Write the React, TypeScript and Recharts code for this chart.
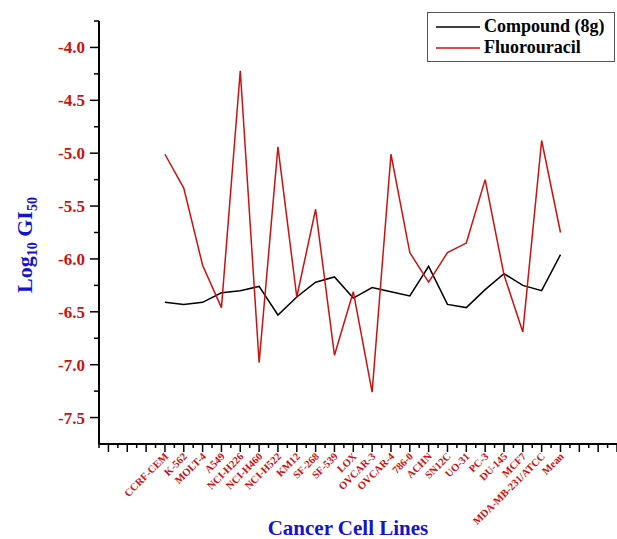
import { LineChart, Line, XAxis, YAxis, Legend } from 'recharts';

const cellLines = [
  'CCRF-CEM', 'K-562', 'MOLT-4', 'A549', 'NCI-H226', 'NCI-H460', 'NCI-H522', 'KM12',
  'SF-268', 'SF-539', 'LOX', 'OVCAR-3', 'OVCAR-4', '786-0', 'ACHN', 'SN12C', 'UO-31',
  'PC-3', 'DU-145', 'MCF7', 'MDA-MB-231/ATCC', 'Mean',
];

const compound8g = [
  -6.41, -6.43, -6.41, -6.32, -6.30, -6.26, -6.53, -6.36, -6.22, -6.17, -6.37,
  -6.27, -6.31, -6.35, -6.07, -6.43, -6.46, -6.29, -6.14, -6.25, -6.30, -5.96,
];

const fluorouracil = [
  -5.01, -5.33, -6.06, -6.46, -4.22, -6.98, -4.94, -6.36, -5.53, -6.91, -6.31,
  -7.26, -5.01, -5.94, -6.22, -5.94, -5.85, -5.25, -6.15, -6.69, -4.88, -5.75,
];

// category positions sit on integers, minor ticks on the halves
const xTicks = Array.from({ length: 56 }, (_, i) => -3.5 + i * 0.5);
const yTicks = Array.from({ length: 16 }, (_, i) => -7.5 + i * 0.25);

const RED = '#cc1111';
const BLUE = '#1414c8';
const SERIF = "'Liberation Serif', 'Times New Roman', serif";

const rows = cellLines.map((name, i) => ({
  idx: i,
  name,
  compound: compound8g[i],
  fu: fluorouracil[i],
}));

const XTick = ({ x, y, payload }: any) => {
  const v = payload.value;
  const major = Number.isInteger(v);
  const label = major && v >= 0 && v < cellLines.length ? cellLines[v] : null;
  return (
    <g>
      <line x1={x} y1={y} x2={x} y2={y + (major ? 8 : 4)} stroke="#000" strokeWidth={1.5} />
      {label && (
        <text
          x={x + 4}
          y={y + 13}
          transform={`rotate(-45, ${x + 4}, ${y + 13})`}
          textAnchor="end"
          fill={RED}
          fontSize={10.5}
          fontWeight="bold"
          fontFamily={SERIF}
        >
          {label}
        </text>
      )}
    </g>
  );
};

const YTick = ({ x, y, payload }: any) => {
  const v = payload.value;
  const major = Math.abs(v * 2 - Math.round(v * 2)) < 1e-6;
  return (
    <g>
      <line x1={x - (major ? 9 : 5)} y1={y} x2={x} y2={y} stroke="#000" strokeWidth={1.5} />
      {major && (
        <text
          x={x - 14}
          y={y}
          dy={6}
          textAnchor="end"
          fill={RED}
          fontSize={17}
          fontWeight="bold"
          fontFamily={SERIF}
        >
          {v.toFixed(1)}
        </text>
      )}
    </g>
  );
};

const YTitle = () => (
  <text
    x={32}
    y={245}
    transform="rotate(-90, 32, 245)"
    textAnchor="middle"
    fill={BLUE}
    fontSize={22}
    fontWeight="bold"
    fontFamily={SERIF}
  >
    Log
    <tspan fontSize={14} dy={5}>10</tspan>
    <tspan dy={-5}> GI</tspan>
    <tspan fontSize={14} dy={5}>50</tspan>
  </text>
);

const XTitle = () => (
  <text
    x={348}
    y={535}
    textAnchor="middle"
    fill={BLUE}
    fontSize={21}
    fontWeight="bold"
    fontFamily={SERIF}
  >
    Cancer Cell Lines
  </text>
);

const legendItems = [
  { label: 'Compound (8g)', color: '#000' },
  { label: 'Fluorouracil', color: RED },
];

const ChartLegend = () => (
  <div
    style={{
      border: '1px solid #555',
      background: '#fff',
      padding: '3px 0 3px 8px',
      boxSizing: 'border-box',
      width: 188,
      height: 50,
    }}
  >
    {legendItems.map((item) => (
      <div key={item.label} style={{ display: 'flex', alignItems: 'center', height: 21 }}>
        <svg width={46} height={4}>
          <line x1={0} y1={2} x2={44} y2={2} stroke={item.color} strokeWidth={1.5} />
        </svg>
        <span
          style={{
            marginLeft: 2,
            fontFamily: SERIF,
            fontWeight: 'bold',
            fontSize: 18,
            color: '#000',
          }}
        >
          {item.label}
        </span>
      </div>
    ))}
  </div>
);

export default function App() {
  return (
    <div style={{ position: 'absolute', left: 0, top: 0, background: '#fff' }}>
      <LineChart width={617} height={539} data={rows} margin={{ top: 21, right: 0, bottom: 0, left: 0 }}>
        <XAxis
          dataKey="idx"
          type="number"
          domain={[-3.5, 24]}
          ticks={xTicks}
          interval={0}
          height={95}
          tickLine={false}
          tickSize={0}
          tickMargin={0}
          tick={<XTick />}
          axisLine={{ stroke: '#000', strokeWidth: 2 }}
          label={{ content: <XTitle /> }}
        />
        <YAxis
          type="number"
          domain={[-7.75, -3.75]}
          ticks={yTicks}
          interval={0}
          width={99}
          tickLine={false}
          tickSize={0}
          tickMargin={0}
          tick={<YTick />}
          axisLine={{ stroke: '#000', strokeWidth: 2 }}
          label={{ content: <YTitle /> }}
        />
        <Legend
          layout="vertical"
          align="center"
          verticalAlign="middle"
          content={<ChartLegend />}
          wrapperStyle={{ left: 427, top: 12, width: 188, height: 50 }}
        />
        <Line
          type="linear"
          dataKey="compound"
          name="Compound (8g)"
          stroke="#000"
          strokeWidth={1.5}
          dot={false}
          isAnimationActive={false}
        />
        <Line
          type="linear"
          dataKey="fu"
          name="Fluorouracil"
          stroke={RED}
          strokeWidth={1.5}
          dot={false}
          isAnimationActive={false}
        />
      </LineChart>
    </div>
  );
}
